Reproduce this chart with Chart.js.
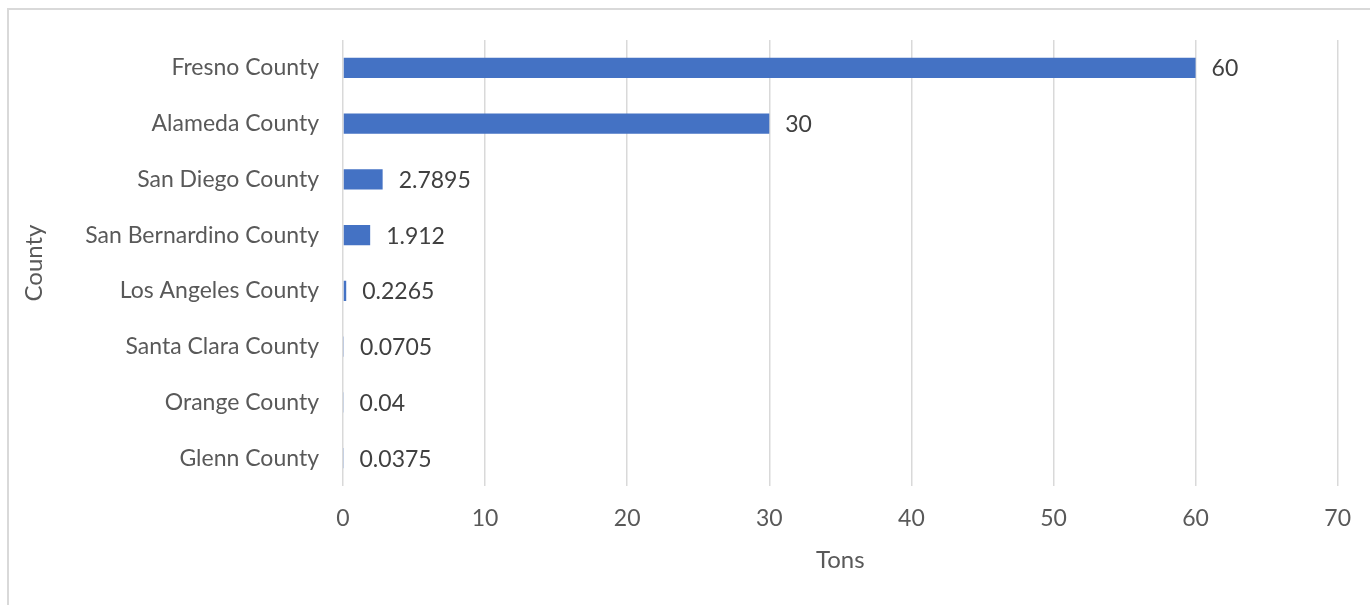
<!DOCTYPE html>
<html>
<head>
<meta charset="utf-8">
<script src="https://cdn.jsdelivr.net/npm/chart.js@4/dist/chart.umd.min.js"></script>
<style>
  html, body { margin: 0; padding: 0; background: #fff; overflow: hidden; }
  #wrap { position: relative; width: 1370px; height: 605px; }
  #frame { position: absolute; left: 7px; top: 8px; width: 1400px; height: 700px; border: 2px solid #d9d9d9; pointer-events: none; }
</style>
</head>
<body>
<div id="wrap">
  <canvas id="grafica" width="1370" height="605"></canvas>
  <div id="frame"></div>
</div>
<script>
// datos del gráfico
const condados = ["Fresno County", "Alameda County", "San Diego County", "San Bernardino County",
  "Los Angeles County", "Santa Clara County", "Orange County", "Glenn County"];
const toneladas = [60, 30, 2.7895, 1.912, 0.2265, 0.0705, 0.04, 0.0375];
const etiquetasX = [0, 10, 20, 30, 40, 50, 60, 70];

const fuente = "Lato, Carlito, Calibri, sans-serif";

// etiquetas de valor al final de cada barra
const etiquetasValor = {
  id: "etiquetasValor",
  afterDatasetsDraw(chart) {
    const ctx = chart.ctx;
    const meta = chart.getDatasetMeta(0);
    ctx.save();
    ctx.font = "23px " + fuente;
    ctx.fillStyle = "#404040";
    ctx.textAlign = "left";
    ctx.textBaseline = "middle";
    meta.data.forEach((barra, i) => {
      ctx.fillText(String(toneladas[i]), barra.x + 16, barra.y + 1);
    });
    ctx.restore();
  }
};

const ctx = document.getElementById("grafica").getContext("2d");
new Chart(ctx, {
  type: "bar",
  data: {
    labels: condados,
    datasets: [{
      data: toneladas,
      backgroundColor: "#4472C4",
      barPercentage: 0.36,
      categoryPercentage: 1
    }]
  },
  options: {
    indexAxis: "y",
    responsive: false,
    animation: false,
    layout: { padding: { left: 0, top: 40, right: 31, bottom: 0 } },
    plugins: { legend: { display: false }, tooltip: { enabled: false } },
    scales: {
      x: {
        min: 0,
        max: 70,
        afterBuildTicks(scale) { scale.ticks = etiquetasX.map(v => ({ value: v })); },
        afterFit(scale) { scale.height = 119; },
        grid: { color: "#d9d9d9", lineWidth: 1.5, drawTicks: false },
        border: { display: false },
        ticks: { color: "#595959", font: { family: fuente, size: 23 }, padding: 19 },
        title: { display: true, text: "Tons", color: "#595959", font: { family: fuente, size: 24 }, padding: { top: 0, bottom: 30 } }
      },
      y: {
        afterFit(scale) { scale.width = 343; },
        grid: { display: false, drawTicks: false },
        border: { display: false },
        ticks: { color: "#595959", font: { family: fuente, size: 23 }, padding: 24 },
        title: { display: true, text: "County", color: "#595959", font: { family: fuente, size: 24 }, padding: { top: 20, bottom: 0 } }
      }
    }
  },
  plugins: [etiquetasValor]
});
</script>
</body>
</html>
